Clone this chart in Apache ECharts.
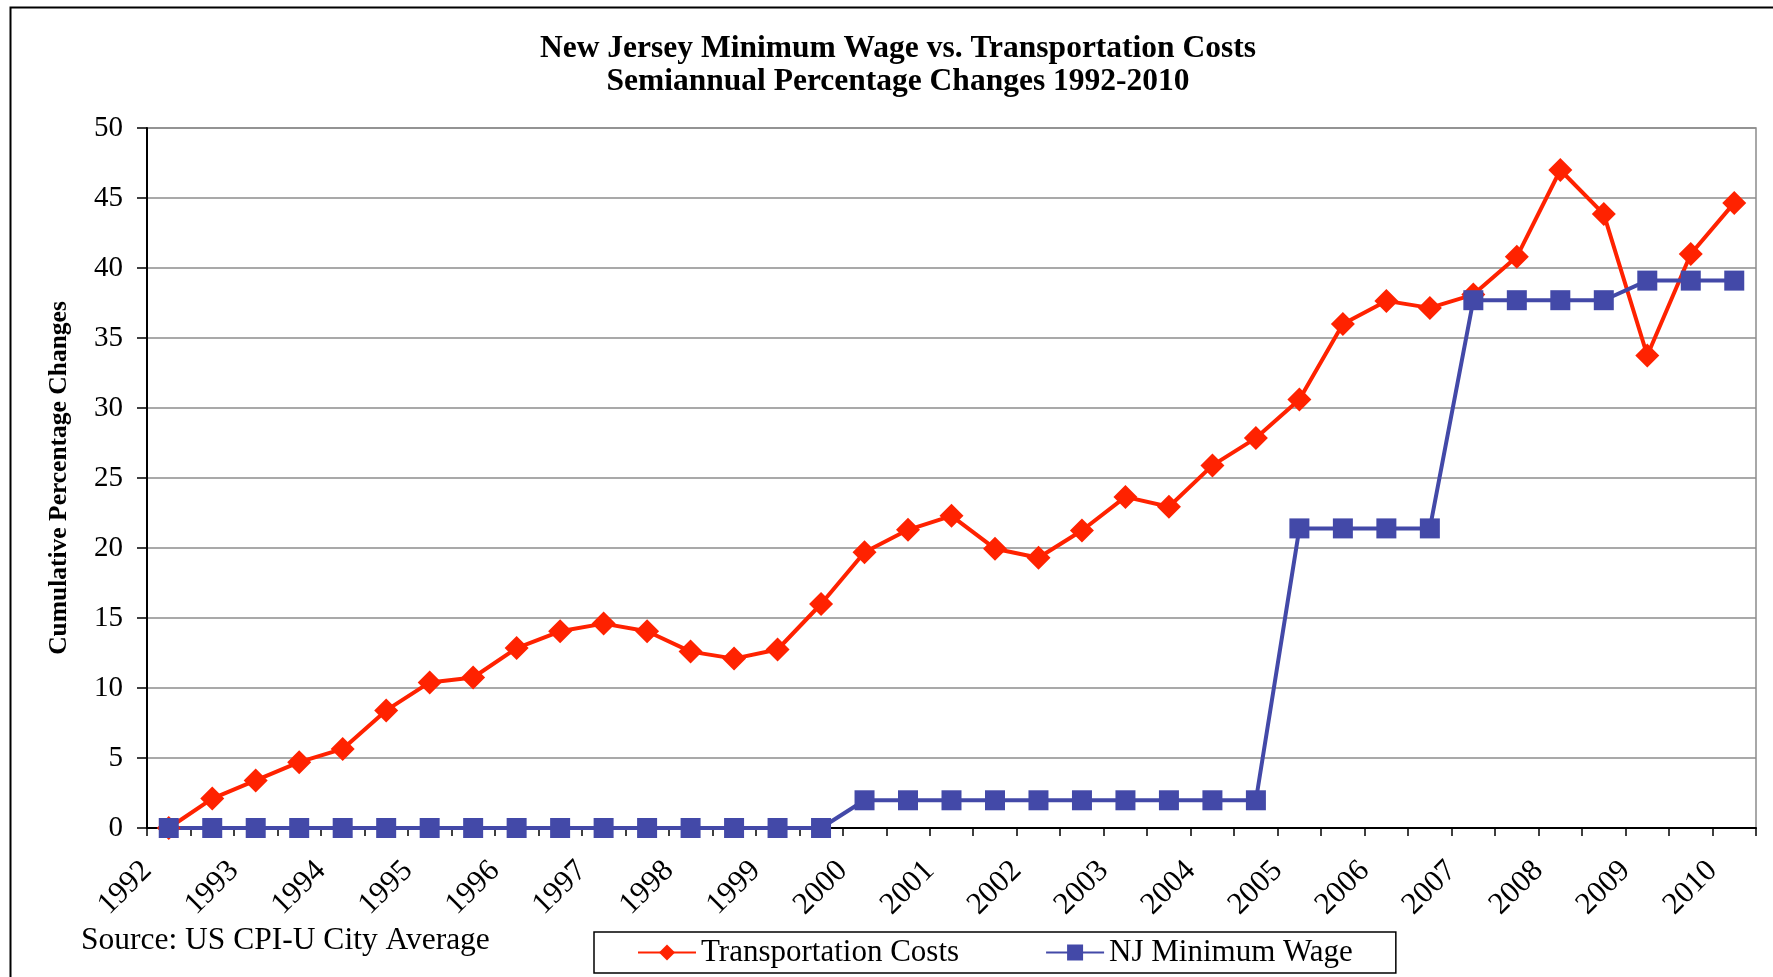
<!DOCTYPE html>
<html>
<head>
<meta charset="utf-8">
<title>NJ Minimum Wage vs. Transportation Costs</title>
<script src="https://cdn.jsdelivr.net/npm/echarts@6/dist/echarts.min.js"></script>
<style>
  html, body { margin: 0; padding: 0; background: #fff; }
  #chart { width: 1773px; height: 977px; }
</style>
</head>
<body>
<div id="chart"></div>
<script>
// semiannual periods, 1992 H1 .. 2010 H1
var periods = [
    '1992 H1','1992 H2','1993 H1','1993 H2','1994 H1','1994 H2','1995 H1','1995 H2',
    '1996 H1','1996 H2','1997 H1','1997 H2','1998 H1','1998 H2','1999 H1','1999 H2',
    '2000 H1','2000 H2','2001 H1','2001 H2','2002 H1','2002 H2','2003 H1','2003 H2',
    '2004 H1','2004 H2','2005 H1','2005 H2','2006 H1','2006 H2','2007 H1','2007 H2',
    '2008 H1','2008 H2','2009 H1','2009 H2','2010 H1'
];
// year labels sit on every second tick
var yearLabels = ['1992','1993','1994','1995','1996','1997','1998','1999','2000','2001',
    '2002','2003','2004','2005','2006','2007','2008','2009','2010'];

var transportation = [
    0, 2.1, 3.4, 4.7, 5.65, 8.4, 10.4, 10.75, 12.85, 14.05,
    14.6, 14.05, 12.6, 12.1, 12.75, 16.0, 19.7, 21.3, 22.3, 19.95,
    19.3, 21.25, 23.65, 22.95, 25.9, 27.85, 30.6, 36.0, 37.65, 37.15,
    38.1, 40.8, 47.0, 43.85, 33.75, 41.0, 44.65
];
var minWage = [
    0, 0, 0, 0, 0, 0, 0, 0, 0, 0,
    0, 0, 0, 0, 0, 0, 1.98, 1.98, 1.98, 1.98,
    1.98, 1.98, 1.98, 1.98, 1.98, 1.98, 21.4, 21.4, 21.4, 21.4,
    37.7, 37.7, 37.7, 37.7, 39.1, 39.1, 39.1
];

// points sit in the middle of each half-year slot
function toPoints(vals) {
    return vals.map(function (v, i) { return [i + 0.5, v]; });
}

var serif = '"Liberation Serif", "Times New Roman", serif';
var chart = echarts.init(document.getElementById('chart'));

var option = {
    backgroundColor: '#fff',
    animation: false,
    title: {
        text: 'New Jersey Minimum Wage vs. Transportation Costs\nSemiannual Percentage Changes 1992-2010',
        left: 893,
        top: 27,
        textAlign: 'center',
        textStyle: {
            fontFamily: serif,
            fontWeight: 'bold',
            fontSize: 31.5,
            lineHeight: 33,
            color: '#000'
        }
    },
    legend: {
        left: 594,
        top: 932,
        padding: [5, 43, 5, 43],
        itemGap: 86,
        itemWidth: 58,
        itemHeight: 20,
        borderColor: '#000',
        borderWidth: 1.5,
        textStyle: { fontFamily: serif, fontSize: 31, color: '#000' },
        data: ['Transportation Costs', 'NJ Minimum Wage']
    },
    grid: {
        left: 147,
        right: 17,
        top: 128,
        bottom: 149,
        show: true,
        borderColor: '#8c8c8c',
        borderWidth: 1.5
    },
    xAxis: {
        type: 'value',
        min: 0,
        max: periods.length,
        interval: 1,
        axisLine: { lineStyle: { color: '#000', width: 2 } },
        axisTick: { show: true, length: 8, lineStyle: { color: '#000', width: 1.5 } },
        splitLine: { show: false },
        axisLabel: {
            rotate: 45,
            margin: 38,
            fontFamily: serif,
            fontSize: 31,
            color: '#000',
            formatter: function (v) {
                return v % 2 === 0 ? (yearLabels[v / 2] || '') : '';
            }
        }
    },
    yAxis: {
        type: 'value',
        min: 0,
        max: 50,
        interval: 5,
        name: 'Cumulative Percentage Changes',
        nameLocation: 'middle',
        nameGap: 75,
        nameTextStyle: {
            fontFamily: serif,
            fontWeight: 'bold',
            fontSize: 25.5,
            color: '#000'
        },
        axisLine: { show: true, lineStyle: { color: '#000', width: 2 } },
        axisTick: { show: true, length: 10, lineStyle: { color: '#000', width: 1.5 } },
        splitLine: { lineStyle: { color: '#8c8c8c', width: 1.5 } },
        axisLabel: {
            margin: 24,
            fontFamily: serif,
            fontSize: 29,
            color: '#000'
        }
    },
    graphic: [
        {
            type: 'rect',
            left: 8,
            top: 5,
            shape: { width: 1800, height: 1000 },
            style: { fill: 'none', stroke: '#000', lineWidth: 2 },
            silent: true
        },
        {
            type: 'text',
            left: 81,
            top: 925,
            style: {
                text: 'Source: US CPI-U City Average',
                font: '31.5px ' + serif,
                fill: '#000'
            }
        }
    ],
    series: [
        {
            name: 'Transportation Costs',
            type: 'line',
            data: toPoints(transportation),
            symbol: 'diamond',
            symbolSize: 24,
            itemStyle: { color: '#ff2200' },
            lineStyle: { color: '#ff2200', width: 4 }
        },
        {
            name: 'NJ Minimum Wage',
            type: 'line',
            data: toPoints(minWage),
            symbol: 'rect',
            symbolSize: 20,
            itemStyle: { color: '#4349a8' },
            lineStyle: { color: '#4349a8', width: 4 }
        }
    ]
};

chart.setOption(option);
</script>
</body>
</html>
